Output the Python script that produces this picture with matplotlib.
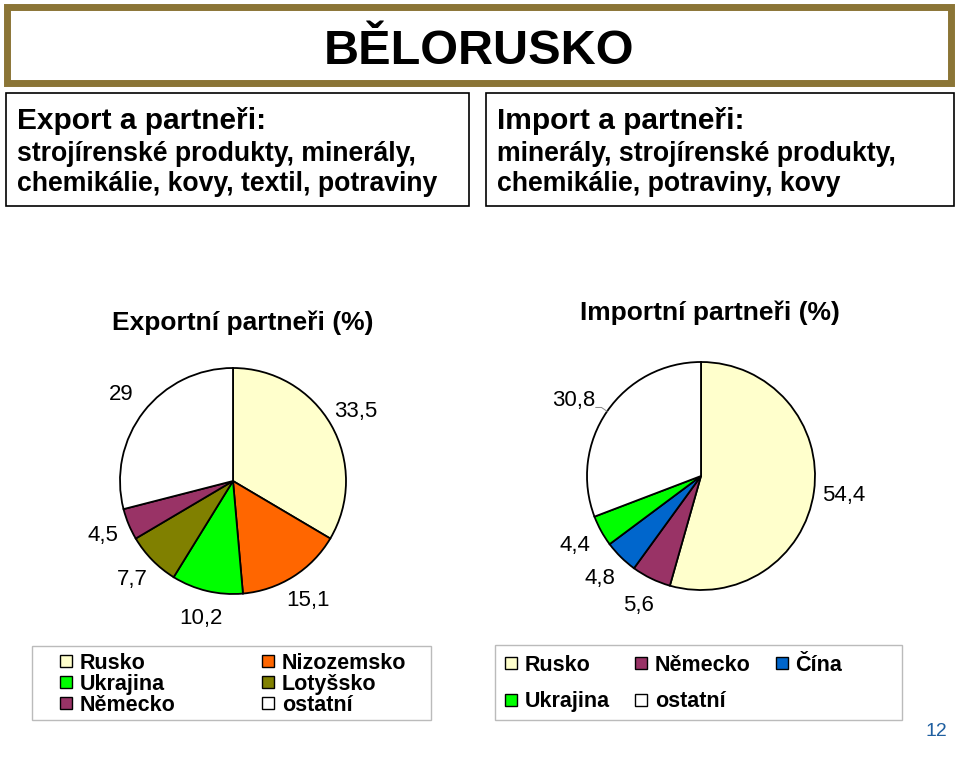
import numpy as np
import matplotlib.pyplot as plt
from matplotlib.patches import Rectangle
from matplotlib.lines import Line2D

plt.rcParams['font.family'] = ['Liberation Sans', 'DejaVu Sans']

W, H = 960, 757

# data
export_labels = ['Rusko', 'Nizozemsko', 'Ukrajina', 'Lotyšsko', 'Německo', 'ostatní']
export_values = [33.5, 15.1, 10.2, 7.7, 4.5, 29]
import_labels = ['Rusko', 'Německo', 'Čína', 'Ukrajina', 'ostatní']
import_values = [54.4, 5.6, 4.8, 4.4, 30.8]

colors = {'Rusko': '#FFFFCC', 'Nizozemsko': '#FF6600', 'Ukrajina': '#00FF00',
          'Lotyšsko': '#808000', 'Německo': '#993366', 'Čína': '#0066CC',
          'ostatní': '#FFFFFF'}

export_legend_order = ['Rusko', 'Ukrajina', 'Německo', 'Nizozemsko', 'Lotyšsko', 'ostatní']
import_legend_order = ['Rusko', 'Ukrajina', 'Německo', 'ostatní', 'Čína']


def fmt(v):
    return f'{v:g}'.replace('.', ',')


fig = plt.figure(figsize=(9.6, 7.57), dpi=100)
bg = fig.add_axes([0, 0, 1, 1])
bg.set_xlim(0, W)
bg.set_ylim(H, 0)
bg.axis('off')

# title frame
bg.add_patch(Rectangle((7, 7), 944, 76, fill=False, lw=5, ec='#8B7536'))
bg.text(479, 64, 'BĚLORUSKO', fontsize=35, fontweight='bold', ha='center', va='baseline')

# text boxes
bg.add_patch(Rectangle((6, 93), 463, 113, fill=False, lw=1.2, ec='black'))
bg.add_patch(Rectangle((486, 93), 468, 113, fill=False, lw=1.2, ec='black'))
bg.text(17, 129, 'Export a partneři:', fontsize=21.5, fontweight='bold', va='baseline')
bg.text(17, 161, 'strojírenské produkty, minerály,', fontsize=19.2, fontweight='bold', va='baseline')
bg.text(17, 191, 'chemikálie, kovy, textil, potraviny', fontsize=19.2, fontweight='bold', va='baseline')
bg.text(497, 129, 'Import a partneři:', fontsize=21.5, fontweight='bold', va='baseline')
bg.text(497, 161, 'minerály, strojírenské produkty,', fontsize=19.2, fontweight='bold', va='baseline')
bg.text(497, 191, 'chemikálie, potraviny, kovy', fontsize=19.2, fontweight='bold', va='baseline')

# chart titles
bg.text(243, 330, 'Exportní partneři (%)', fontsize=19, fontweight='bold', ha='center', va='baseline')
bg.text(710, 320, 'Importní partneři (%)', fontsize=19, fontweight='bold', ha='center', va='baseline')


def pie_axes(cx, cy, r, k=1.6):
    s = r * k
    ax = fig.add_axes([(cx - s) / W, (H - cy - s) / H, 2 * s / W, 2 * s / H])
    return ax


def draw_pie(ax, labels, values, dist, k=1.6):
    wedges, texts = ax.pie(values, labels=[fmt(v) for v in values],
                           colors=[colors[l] for l in labels],
                           startangle=90, counterclock=False, labeldistance=dist,
                           wedgeprops=dict(edgecolor='black', linewidth=1.3),
                           textprops=dict(fontsize=16))
    for t in texts:
        t.set_ha('center')
        t.set_va('center')
    ax.set_xlim(-k, k)
    ax.set_ylim(-k, k)
    return wedges, texts


ax1 = pie_axes(233, 481, 113)
w1, t1 = draw_pie(ax1, export_labels, export_values, 1.25)

ax2 = pie_axes(701, 476, 114)
w2, t2 = draw_pie(ax2, import_labels, import_values, 1.26)
# leader for the "ostatní" label
t2[-1].set_position((-1.12, 0.66))
ang = np.deg2rad((w2[-1].theta1 + w2[-1].theta2) / 2)
ax2.plot([np.cos(ang), np.cos(ang) * 1.06, np.cos(ang) * 1.06 - 0.05],
         [np.sin(ang), np.sin(ang) * 1.06, np.sin(ang) * 1.06],
         color='#888888', lw=0.7)

# legends
bg.add_patch(Rectangle((32, 646), 399, 74, fill=False, lw=1, ec='#BBBBBB'))
bg.add_patch(Rectangle((495, 645), 407, 75, fill=False, lw=1, ec='#BBBBBB'))


def handle(name):
    return Line2D([], [], marker='s', linestyle='', markersize=8,
                  markerfacecolor=colors[name], markeredgecolor='black', markeredgewidth=1)


fig.legend([handle(n) for n in export_legend_order], export_legend_order,
           loc='upper left', bbox_to_anchor=(60 / W, 1 - 653 / H), ncol=2,
           frameon=False, prop=dict(size=15.5, weight='bold'),
           handlelength=0.6, handletextpad=0.33, labelspacing=0.0,
           columnspacing=4.0, borderpad=0, borderaxespad=0)

fig.legend([handle(n) for n in import_legend_order], import_legend_order,
           loc='upper left', bbox_to_anchor=(505 / W, 1 - 655 / H), ncol=3,
           frameon=False, prop=dict(size=15.5, weight='bold'),
           handlelength=0.6, handletextpad=0.33, labelspacing=0.7,
           columnspacing=1.15, borderpad=0, borderaxespad=0)

bg.text(936, 731, '12', fontsize=14, color='#1F5FA0', ha='center', va='center')

fig.savefig('out.png', dpi=100)
